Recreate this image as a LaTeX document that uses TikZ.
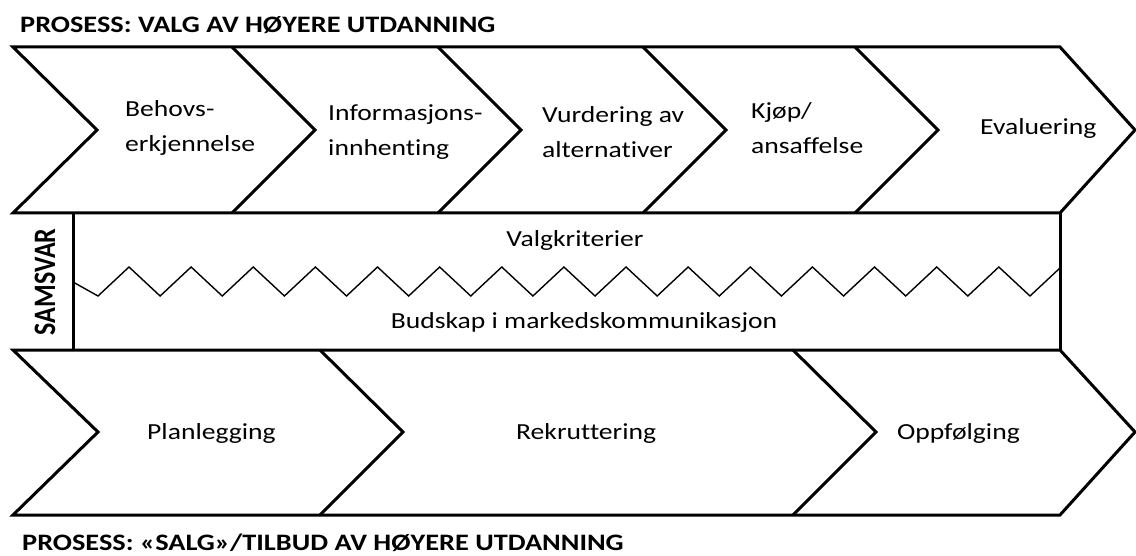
\documentclass[tikz,border=0pt]{standalone}
\usepackage{fontspec}
\setmainfont{Carlito}[FakeStretch=1.2, Ligatures=NoCommon]
\newfontfamily\plainfont{Carlito}[Ligatures=NoCommon]
\begin{document}
\begin{tikzpicture}[x=1pt,y=-1pt,
  shapeline/.style={line width=3pt, line join=miter, draw=black},
  divline/.style={line width=3pt, line join=miter, draw=black},
  zigline/.style={line width=1.4pt, line join=miter},
  lbl/.style={font=\fontsize{23}{35}\selectfont, align=left, anchor=west, inner sep=0pt},
  midlbl/.style={font=\fontsize{23}{28}\selectfont, inner sep=0pt},
  ttl/.style={font=\fontsize{23.6}{28}\selectfont\bfseries, anchor=west, inner sep=0pt}]
\useasboundingbox (0,0) rectangle (1136,556);

% titles
\node[ttl] (t1) at (20,25) {PROSESS: VALG AV HØYERE UTDANNING};
\node[ttl] (t2) at (22,543) {PROSESS: «SALG»/TILBUD AV HØYERE UTDANNING};

% top chevron band
\draw[shapeline] (13,47) -- (1060,47) -- (1135,130) -- (1060,213) -- (13,213) -- (97,130) -- cycle;
\draw[divline] (232,47) -- (315,130) -- (232,213);
\draw[divline] (438,47) -- (521,130) -- (438,213);
\draw[divline] (643,47) -- (726,130) -- (643,213);
\draw[divline] (855,47) -- (938,130) -- (855,213);

% bottom chevron band
\draw[shapeline] (13,350) -- (1060,350) -- (1135,432) -- (1060,515) -- (13,515) -- (98,432) -- cycle;
\draw[divline] (320,350) -- (403,432) -- (320,515);
\draw[divline] (793,350) -- (876,432) -- (793,515);

% middle box
\draw[shapeline] (73,213) -- (73,350);
\draw[shapeline] (1060,213) -- (1060,350);

% zigzag
\draw[zigline] (73,282) \foreach \k in {0,...,14} { -- ({98+62.13*\k},296) -- ({129+62.13*\k},267) } -- (1030,296) -- (1060,268);

% SAMSVAR
\node[rotate=90, inner sep=0pt, font=\plainfont\fontsize{26}{30}\selectfont\bfseries] (sam) at (45,282) {\scalebox{1}[1.2]{SAMSVAR}};

% labels top
\node[lbl] (a1) at (125,128) {Behovs-\\erkjennelse};
\node[lbl] (a2) at (328,132) {Informasjons-\\innhenting};
\node[lbl] (a3) at (542,132) {Vurdering av\\alternativer};
\node[lbl] (a4) at (751,128) {Kjøp/\\ansaffelse};
\node[lbl] (a5) at (980,128) {Evaluering};

% middle labels
\node[midlbl] (m1) at (575,240) {Valgkriterier};
\node[midlbl] (m2) at (584,322) {Budskap i markedskommunikasjon};

% labels bottom
\node[lbl] (b1) at (147,433) {Planlegging};
\node[lbl] (b2) at (516,433) {Rekruttering};
\node[lbl] (b3) at (897,433) {Oppfølging};
\end{tikzpicture}
\end{document}
